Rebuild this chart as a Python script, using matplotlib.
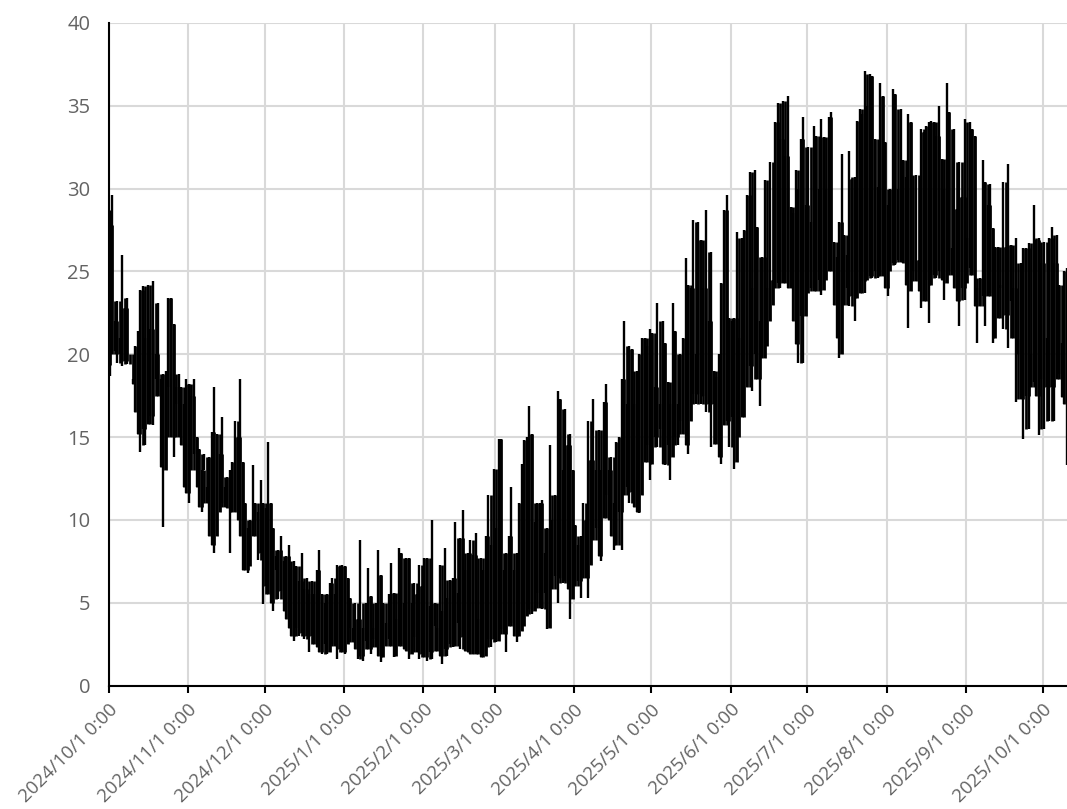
import numpy as np
import pandas as pd
import matplotlib
matplotlib.use("Agg")
import matplotlib.pyplot as plt
from matplotlib.transforms import ScaledTranslation

high_a = [27.8,29.6,22.0,23.2,21.0,26.0,22.8,23.4,20.0,18.5,20.5,21.4,23.9,24.1,21.0,24.2,21.5,24.4,20.0,23.1,18.5,18.8,19.0,23.4,23.4,21.8,18.0,18.8,18.0,17.0,18.5]
low_a = [18.7,20.0,20.2,19.5,20.0,19.3,19.6,19.4,20.0,18.2,16.5,15.2,14.1,15.5,14.5,15.8,16.3,15.7,18.5,17.5,13.2,9.6,13.0,18.0,15.0,13.8,17.0,15.0,14.5,12.0,11.6]
high_b = [18.2,17.5,18.5,15.0,14.3,13.0,14.0,12.0,13.8,15.3,18.0,15.2,14.0,16.2,12.0,12.6,13.0,13.5,16.0,15.0,18.5,13.5,11.0,9.5,10.0,13.3,11.0,10.5,12.4,11.0]
low_b = [11.0,13.0,14.0,12.0,10.8,10.5,13.0,11.0,9.0,8.5,8.0,9.0,10.5,11.0,10.8,10.7,8.0,10.5,10.5,10.0,9.0,7.0,7.0,6.8,7.2,9.0,10.0,7.6,8.0,4.9]
high_c = [10.7,14.7,11.0,9.5,7.8,8.2,9.0,7.5,7.8,8.5,7.0,7.5,7.2,6.3,8.0,5.8,6.5,5.5,6.3,5.5,7.0,8.2,5.5,5.0,5.5,6.2,6.5,5.5,7.3,7.2]
low_c = [6.0,5.5,5.0,4.5,7.0,5.2,5.7,4.5,4.0,3.5,3.0,2.7,3.5,3.0,3.2,2.8,3.0,2.0,3.0,2.5,2.3,2.0,1.9,2.5,1.9,2.0,2.5,2.4,1.6,2.2]
high_d = [7.3,7.2,6.5,5.3,3.5,5.0,4.0,8.8,3.5,5.0,7.1,5.4,3.5,5.0,8.2,6.7,5.0,3.8,5.5,7.4,5.6,4.0,8.3,8.0,5.0,7.7,7.7,5.0,6.2,5.5,7.3]
low_d = [2.0,1.9,2.5,3.5,2.6,2.2,1.6,1.8,1.5,2.7,2.2,1.9,2.8,2.3,1.8,1.4,1.7,2.4,2.8,2.4,1.7,1.8,2.4,2.5,2.2,2.1,1.6,1.9,2.9,2.0,1.6]
high_e = [6.0,7.7,7.7,4.8,10.0,5.0,3.5,7.3,4.5,8.3,5.3,6.4,6.5,9.9,5.6,8.9,10.6,7.0,8.0,8.8,7.9,9.2,4.0,7.7,7.0,9.0,11.5,8.5]
low_e = [1.9,1.7,1.5,2.0,1.6,3.6,2.1,1.8,1.3,2.2,1.8,2.5,2.3,2.4,3.8,2.2,2.9,2.1,2.0,1.9,1.9,1.9,1.9,1.7,1.7,1.8,2.8,2.3]
high_f = [13.1,9.5,14.9,14.9,7.0,8.0,9.0,12.0,7.0,8.0,11.0,13.4,14.8,15.0,16.9,15.2,9.9,11.0,11.0,11.2,8.0,9.5,14.5,10.0,11.5,17.8,17.3,13.0,16.7,14.5,15.2]
low_f = [2.8,2.6,2.7,3.4,3.1,2.0,3.6,3.8,3.0,2.6,3.0,3.3,3.6,4.2,4.6,4.3,4.5,5.6,4.7,4.6,5.6,3.4,3.5,5.8,6.6,5.0,6.5,6.2,6.3,5.8,4.0]
high_g = [13.0,9.7,8.5,9.0,11.0,10.0,16.0,13.6,17.3,13.0,15.4,13.0,17.1,18.2,13.0,13.8,11.0,14.7,15.0,18.5,22.0,17.0,20.5,20.3,17.0,19.0,20.0,21.0,21.0]
low_g = [5.2,6.0,6.3,5.3,7.0,6.5,5.3,7.3,8.8,9.5,7.8,7.5,10.1,11.5,10.0,9.0,8.2,8.5,10.5,8.2,11.5,12.0,11.0,11.7,10.8,10.5,10.4,11.5,13.5]
high_h = [20.5,21.5,21.3,18.0,23.1,17.0,22.0,20.7,18.3,17.0,23.1,21.4,17.0,20.0,21.0,25.8,24.2,24.0,28.1,20.0,28.0,26.9,24.0,28.7,22.0,26.2,19.0,18.6,20.0,24.3,28.7]
low_h = [14.5,12.4,13.4,15.0,14.4,15.5,13.4,13.3,14.5,12.4,13.8,15.0,14.5,16.0,15.2,14.5,14.0,16.0,17.6,17.0,17.6,17.0,17.5,16.5,17.0,14.4,17.0,14.6,13.8,13.4,15.7]
high_i = [29.6,22.2,22.0,22.2,27.4,21.0,27.0,27.5,29.6,31.0,24.0,31.1,27.7,22.0,25.9,30.5,24.0,31.6,24.5,34.0,35.2,33.0,35.3,32.0,35.6,28.9,28.5,31.1,30.0,33.0]
low_i = [16.0,14.4,16.2,13.1,13.5,15.0,16.2,16.2,18.0,19.3,17.8,20.0,18.5,16.9,19.8,19.8,20.5,22.0,23.0,24.0,24.3,24.0,24.3,24.3,24.0,24.0,22.0,20.6,19.5,22.3]
high_j = [34.3,29.0,32.5,28.0,33.8,33.2,30.0,34.2,33.1,30.0,34.3,34.6,26.8,25.9,28.0,32.1,27.2,26.0,32.3,30.6,30.7,34.1,34.8,34.5,37.1,35.0,36.9,36.8,33.0,30.1,36.4,35.6,32.8,29.0,30.0,36.0,35.7,30.0,34.8,31.7,30.7,34.5,34.0,25.7,30.8,25.7,33.6,33.4,33.8,34.0,34.1,34.0,33.2,35.0,31.8,30.0,36.4,34.6,26.4,33.6,28.8,31.6,29.5,34.2,27.0,34.0,33.6,33.2,24.0,24.6,31.7,30.4,29.0,30.3,27.6,26.5,26.5,24.2,30.4,26.5,31.5,26.6,24.0,27.0,20.9,25.5,26.4,26.4,26.7,20.0,29.0,26.9,27.0,25.5,26.8,21.0,27.0,27.7,25.5,27.2,24.2,20.7,25.0,25.2]
low_j = [19.5,22.3,23.7,24.0,23.8,23.8,24.5,23.6,23.9,24.5,25.0,25.0,23.0,21.0,19.8,20.0,23.0,24.0,22.9,23.5,22.0,23.4,23.7,24.4,23.7,24.5,24.7,24.6,25.0,24.6,24.7,24.7,24.0,23.5,25.0,25.5,25.4,25.7,25.6,25.5,24.2,21.6,23.8,25.0,24.4,23.8,22.8,23.2,24.5,21.9,24.2,24.8,24.6,25.0,24.5,23.3,24.3,25.0,24.8,24.0,23.2,21.7,24.0,23.3,24.3,25.2,24.8,22.9,20.7,22.9,23.5,21.7,23.5,23.7,20.7,21.0,22.2,24.0,21.5,22.4,20.4,23.2,21.0,17.1,20.0,17.3,14.9,17.5,15.5,18.0,18.3,17.5,15.1,18.5,15.5,18.0,16.0,18.0,16.0,18.5,18.8,17.4,17.0,13.3]

highs = high_a + high_b + high_c + high_d + high_e + high_f + high_g + high_h + high_i + high_j
lows = low_a + low_b + low_c + low_d + low_e + low_f + low_g + low_h + low_i + low_j
n = min(len(highs), len(lows))
highs, lows = highs[:n], lows[:n]

start = pd.Timestamp("2024-10-01")
tick_dates = pd.date_range("2024-10-01", "2025-10-01", freq="MS")
tick_labels = [f"{d.year}/{d.month}/{d.day} 0:00" for d in tick_dates]
y_ticks = list(range(0, 45, 5))
days = start + pd.to_timedelta(np.arange(n) + 0.4, unit="D")

# the day-to-day hourly trace overlaps into a solid body: span common to neighbouring days
core_high = pd.Series(highs).rolling(3, center=True, min_periods=1).median().to_numpy()
core_low = pd.Series(lows).rolling(3, center=True, min_periods=1).median().to_numpy()

W, H = 1067, 809
fig = plt.figure(figsize=(W / 100, H / 100), dpi=100, facecolor="white")
ax = fig.add_axes([108.5 / W, 1 - 685.5 / H, (W - 108.5) / W, (685.5 - 23) / H])
ax.vlines(days, lows, highs, color="black", lw=1.7, capstyle="butt", zorder=3)
ax.vlines(days, core_low, core_high, color="black", lw=1.95, capstyle="butt", zorder=3)
ax.set_xlim(start, start + pd.Timedelta(days=374.4))
ax.set_ylim(0, 40)
ax.set_xticks(tick_dates)
ax.set_xticklabels(tick_labels, rotation=45, ha="right", rotation_mode="anchor",
                   family="Open Sans", fontsize=13.5, color="#636363")
shift = ScaledTranslation(-3 / 100, 0, fig.dpi_scale_trans)
for t in ax.get_xticklabels():
    t.set_transform(t.get_transform() + shift)
ax.set_yticks(y_ticks)
ax.set_yticklabels([str(v) for v in y_ticks], family="Open Sans", fontsize=14.5, color="#636363")
ax.grid(True, color="#D9D9D9", lw=1.5, zorder=0)
ax.set_axisbelow(True)
for side in ("top", "right"):
    ax.spines[side].set_visible(False)
for side in ("left", "bottom"):
    ax.spines[side].set_linewidth(1.5)
    ax.spines[side].set_color("black")
    ax.spines[side].set_zorder(5)
ax.tick_params(axis="x", length=5, width=1.5, color="black", pad=6)
ax.tick_params(axis="y", length=0, pad=13)
for t in ax.get_yticklabels() + ax.get_xticklabels():
    t.set_clip_on(False)
fig.savefig("out.png", dpi=100)
